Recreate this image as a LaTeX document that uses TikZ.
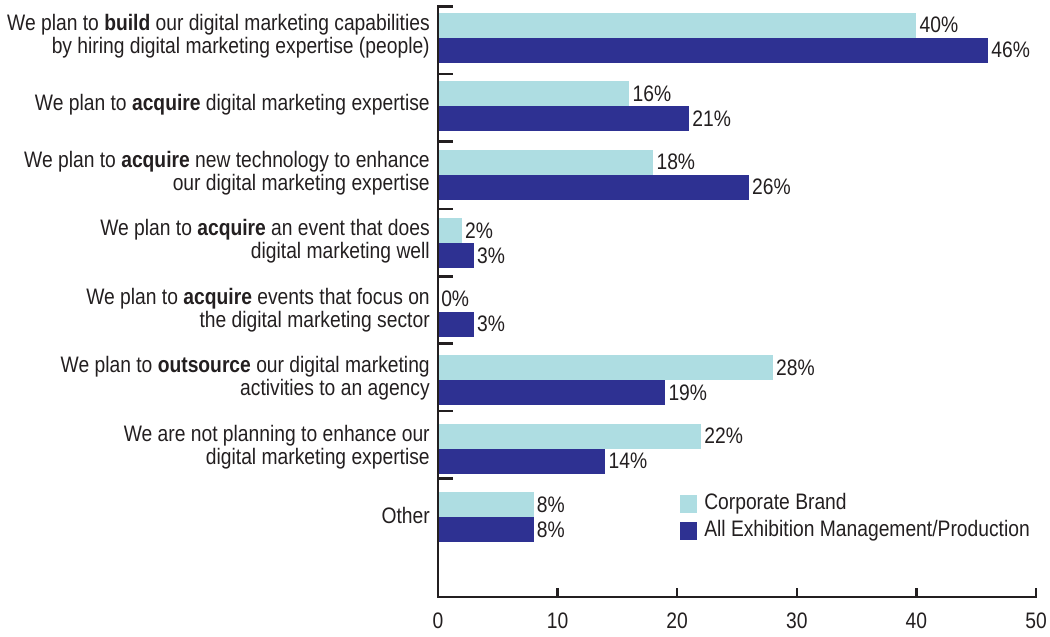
\documentclass[tikz,border=0pt]{standalone}
\usepackage{fontspec}
\setmainfont{Liberation Sans}[FakeStretch=0.86]
\definecolor{brandcol}{RGB}{174,221,226}
\definecolor{allcol}{RGB}{46,49,146}
\definecolor{txtcol}{RGB}{35,31,32}
\begin{document}
\begin{tikzpicture}[x=0.75pt,y=-0.75pt,font=\fontsize{16.8}{17.25}\selectfont,text=txtcol,
    lab/.style={anchor=east,align=right,inner sep=0pt},
    val/.style={anchor=west,inner sep=0pt},
    axisline/.style={line width=1.9pt,draw=txtcol}]
  \useasboundingbox (0,0) rectangle (1050,636);
  % bars
  \foreach \a/\b/\txt [count=\i from 0] in {
      40/46/{We plan to \textbf{build} our digital marketing capabilities\\by hiring digital marketing expertise (people)},
      16/21/{We plan to \textbf{acquire} digital marketing expertise},
      18/26/{We plan to \textbf{acquire} new technology to enhance\\our digital marketing expertise},
      2/3/{We plan to \textbf{acquire} an event that does\\digital marketing well},
      0/3/{We plan to \textbf{acquire} events that focus on\\the digital marketing sector},
      28/19/{We plan to \textbf{outsource} our digital marketing\\activities to an agency},
      22/14/{We are not planning to enhance our\\digital marketing expertise},
      8/8/{Other}} {
    \pgfmathsetmacro\y{12.5+68.5*\i}
    \fill[brandcol] (438,\y) rectangle ++(11.96*\a,25);
    \fill[allcol] (438,\y+25) rectangle ++(11.96*\b,25);
    \node[val] (va\i) at (441+11.96*\a,\y+12.5) {\a\%};
    \node[val] (vb\i) at (441+11.96*\b,\y+37.5) {\b\%};
    \node[lab] (cat\i) at (430,\y+23.5) {\txt};
  }
  % axes
  \draw[axisline] (438,5) -- (438,597) -- (1037,597);
  \foreach \i in {0,...,7}
    \draw[axisline] (438,6.7+67.4*\i) -- (453,6.7+67.4*\i);
  \foreach \t in {0,...,5} {
    \draw[axisline] (438+119.6*\t,597) -- (438+119.6*\t,588);
    \node (xt\t) at (438+119.6*\t,621) {\number\numexpr\t*10\relax};
  }
  % legend
  \fill[brandcol] (680,495) rectangle (697,513);
  \node[val] (leg1) at (704,504) {Corporate Brand};
  \fill[allcol] (680,522) rectangle (697,540);
  \node[val] (leg2) at (704,531) {All Exhibition Management/Production};
\end{tikzpicture}
\end{document}
